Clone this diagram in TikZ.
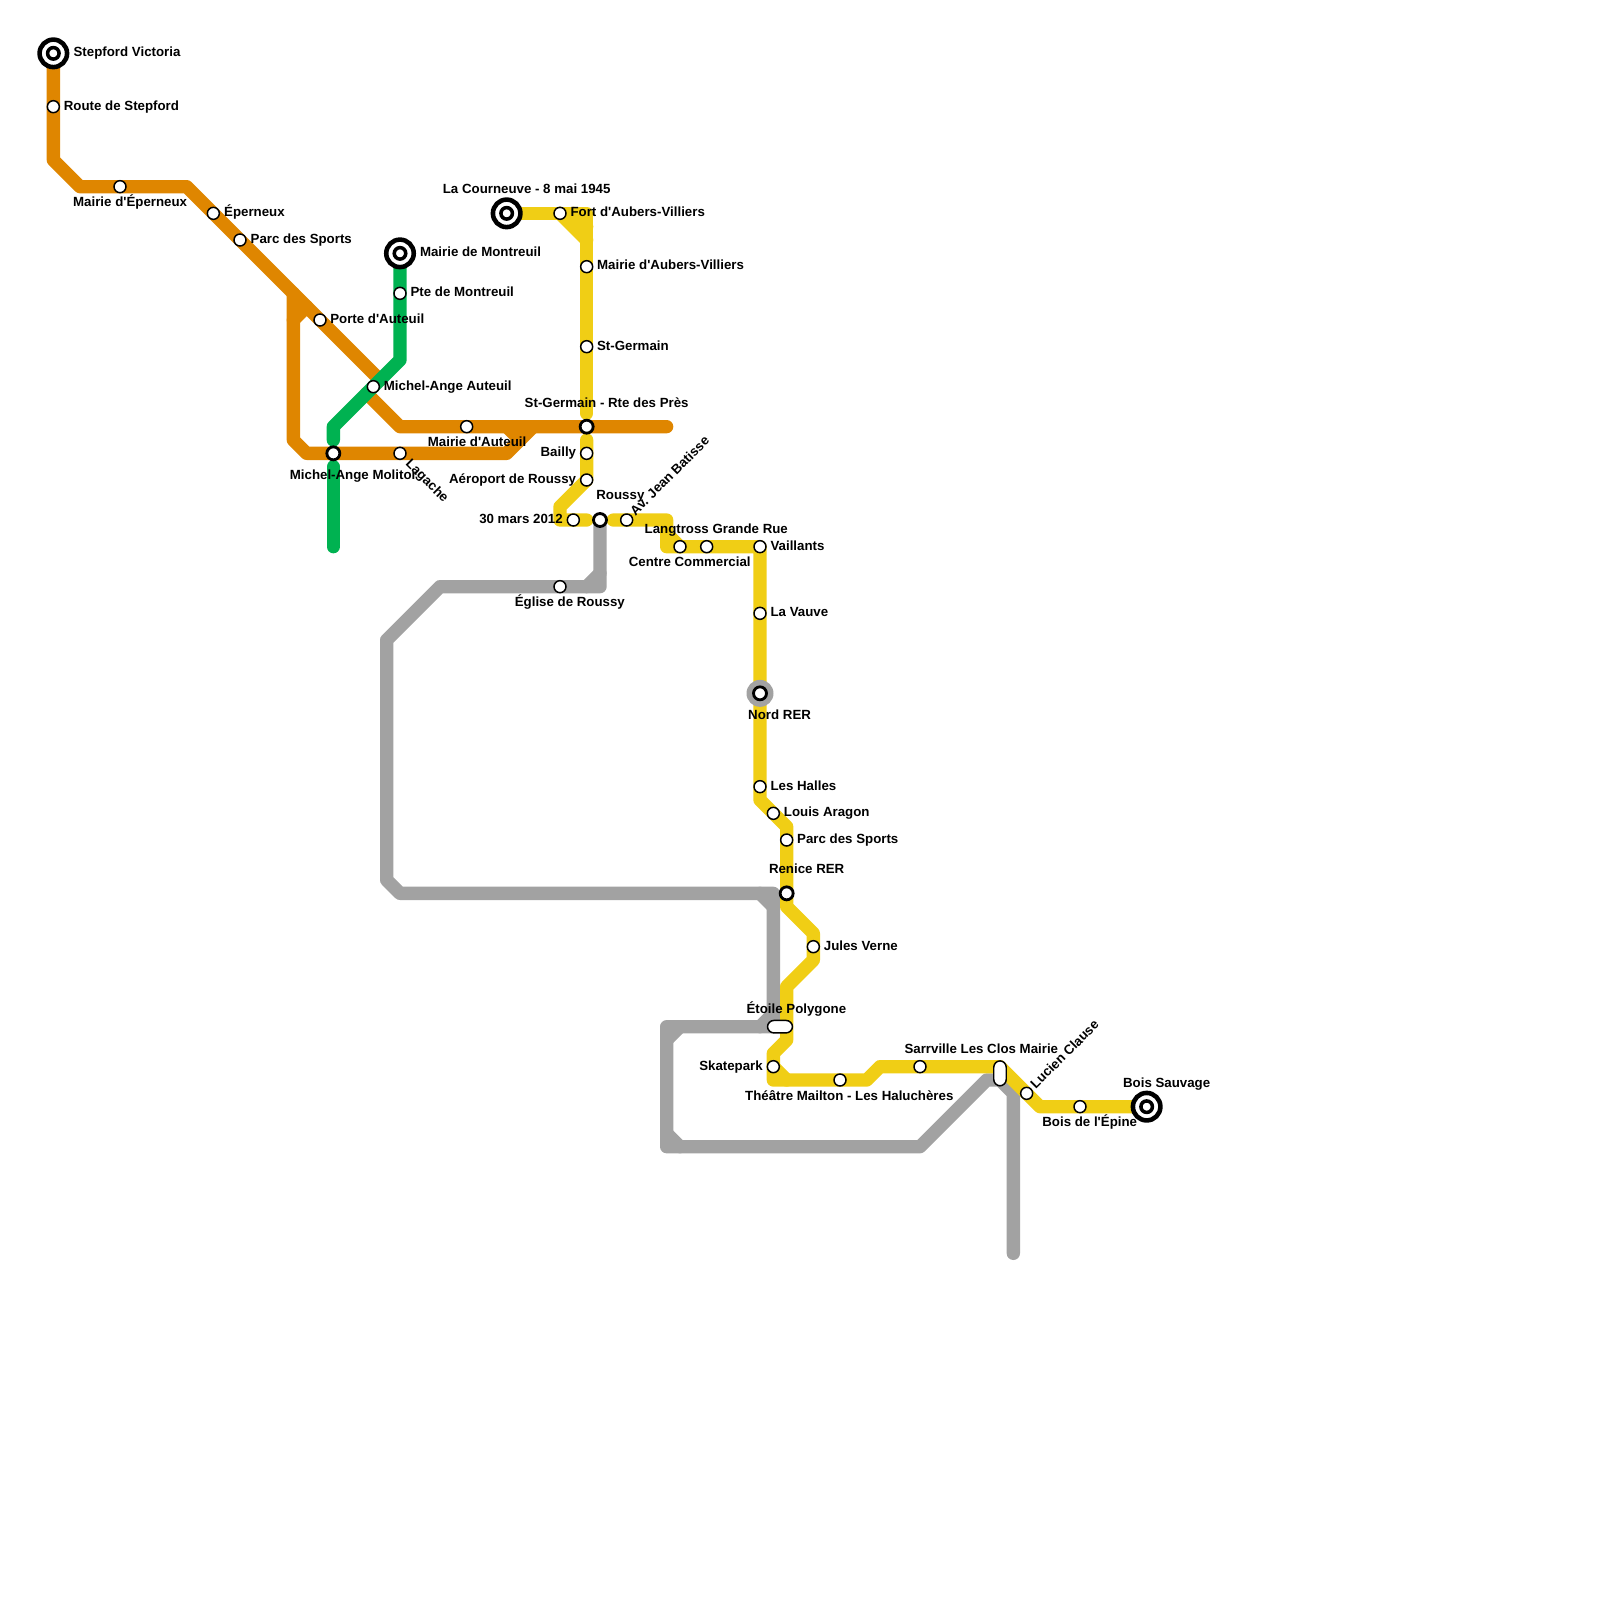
\documentclass[tikz,border=0pt]{standalone}
\usepackage{fontspec}
\setmainfont{Liberation Sans}[Ligatures=TeXOff]
\usetikzlibrary{shapes.misc}
\definecolor{orangeline}{HTML}{DF8600}
\definecolor{greenline}{HTML}{00B251}
\definecolor{yellowline}{HTML}{F0CE15}
\definecolor{grayline}{HTML}{A2A2A2}
\tikzset{
  metro/.style={line width=0.13333cm,line cap=round,line join=round},
  stn/.style={circle,draw=black,fill=white,line width=0.42pt,minimum size=0.12cm,inner sep=0pt},
  hub/.style={circle,draw=black,fill=white,line width=0.8pt,minimum size=0.13cm,inner sep=0pt},
  term/.style={circle,draw=black,fill=white,line width=1.3pt,minimum size=0.275cm,inner sep=0pt},
  termin/.style={circle,draw=black,fill=white,line width=1pt,minimum size=0.115cm,inner sep=0pt},
  lbl/.style={font=\fontsize{3.78}{4.5}\selectfont\bfseries,inner sep=0pt,text height=2.75pt,text depth=0.75pt,yshift=-0.28pt},
}
\begin{document}
\begin{tikzpicture}[x=0.13333cm,y=-0.13333cm]
  \useasboundingbox (0,0) rectangle (120,120);

  % lines
  \draw[metro,grayline] (45,39) -- (45,44) -- (33,44) -- (29,48) -- (29,66) -- (30,67) -- (58,67) -- (58,77)
    -- (50,77) -- (50,86) -- (69,86) -- (74,81) -- (75,81) -- (76,82) -- (76,94);
  \draw[metro,grayline] (44,44) -- (45,43);
  \draw[metro,grayline] (57,67) -- (58,68);
  \draw[metro,grayline] (57,77) -- (58,76);
  \draw[metro,grayline] (50,78) -- (51,77);
  \draw[metro,grayline] (50,85) -- (51,86);

  \draw[metro,orangeline] (4,4) -- (4,12) -- (6,14) -- (14,14) -- (28.5,28.5);
  \draw[metro,orangeline] (27.5,29.5) -- (30,32) -- (50,32);
  \draw[metro,orangeline] (22,22) -- (22,33) -- (23,34) -- (38,34) -- (40,32);
  \draw[metro,orangeline] (22,24) -- (23,23);
  \draw[metro,orangeline] (38,32) -- (39,33);

  \draw[metro,greenline] (30,19) -- (30,27) -- (25,32) -- (25,33);
  \draw[metro,greenline] (25,35) -- (25,41);

  \draw[metro,yellowline] (38,16) -- (44,16) -- (44,31);
  \draw[metro,yellowline] (42,16) -- (44,18);
  \draw[metro,yellowline] (43,16) -- (44,17);
  \draw[metro,yellowline] (44,33) -- (44,36) -- (42,38) -- (42,39) -- (44,39);
  \draw[metro,yellowline] (46,39) -- (50,39) -- (50,41) -- (57,41) -- (57,60) -- (59,62) -- (59,68) -- (61,70)
    -- (61,72) -- (59,74) -- (59,78) -- (58,79) -- (58,81) -- (65,81) -- (66,80) -- (75,80) -- (78,83) -- (86,83);
  \draw[metro,yellowline] (50,40) -- (51,41);
  \draw[metro,yellowline] (58,80) -- (59,81);

  % termini
  \foreach \name/\px/\py in {stepford/4/4,montreuil/30/19,courneuve/38/16,sauvage/86/83}{
    \node[term] (\name) at (\px,\py) {};
    \node[termin] (\name in) at (\px,\py) {};
  }

  % stations
  \foreach \name/\px/\py in {rstep/4/8,meperneux/9/14,eperneux/16/16,sports/18/18,auteuil/24/24,mauteuil/35/32,
    lagache/30/34,ptemont/30/22,angeaut/28/29,fort/42/16,maubers/44/20,germain/44/26,bailly/44/34,aeroport/44/36,
    mars/43/39,batisse/47/39,centre/51/41,langtross/53/41,vaillants/57/41,vauve/57/46,eglise/42/44,halles/57/59,
    aragon/58/61,sportsb/59/63,verne/61/71,skatepark/58/80,theatre/63/81,sarrville/69/80,clause/77/82,epine/81/83}{
    \node[stn] (\name) at (\px,\py) {};
  }

  % interchanges
  \foreach \name/\px/\py in {molitor/25/34,rte/44/32,roussy/45/39,renice/59/67}{
    \node[hub] (\name) at (\px,\py) {};
  }
  \node[circle,fill=grayline,minimum size=0.27cm,inner sep=0pt] (nordring) at (57,52) {};
  \node[hub] (nord) at (57,52) {};
  \node[draw=black,fill=white,rounded corners=0.065cm,line width=0.42pt,minimum width=0.25cm,minimum height=0.125cm,inner sep=0pt] (etoile) at (58.5,77) {};
  \node[draw=black,fill=white,rounded corners=0.065cm,line width=0.42pt,minimum width=0.125cm,minimum height=0.25cm,inner sep=0pt] (clos) at (75,80.5) {};

  % labels, right of the station
  \node[lbl,anchor=west] (stepfordl) at (5.47,3.9) {Stepford Victoria};
  \node[lbl,anchor=west] (rstepl) at (4.74,7.92) {Route de Stepford};
  \node[lbl,anchor=west] (eperneuxl) at (16.76,15.92) {Éperneux};
  \node[lbl,anchor=west] (sportsl) at (18.75,17.91) {Parc des Sports};
  \node[lbl,anchor=west] (montreuill) at (31.45,18.9) {Mairie de Montreuil};
  \node[lbl,anchor=west] (ptemontl) at (30.74,21.89) {Pte de Montreuil};
  \node[lbl,anchor=west] (auteuill) at (24.72,23.95) {Porte d'Auteuil};
  \node[lbl,anchor=west] (angeautl) at (28.74,28.93) {Michel-Ange Auteuil};
  \node[lbl,anchor=west] (fortl) at (42.74,15.92) {Fort d'Aubers-Villiers};
  \node[lbl,anchor=west] (maubersl) at (44.73,19.9) {Mairie d'Aubers-Villiers};
  \node[lbl,anchor=west] (germainl) at (44.73,25.94) {St-Germain};
  \node[lbl,anchor=west] (vaillantsl) at (57.74,40.94) {Vaillants};
  \node[lbl,anchor=west] (vauvel) at (57.74,45.92) {La Vauve};
  \node[lbl,anchor=west] (hallesl) at (57.74,58.93) {Les Halles};
  \node[lbl,anchor=west] (aragonl) at (58.74,60.92) {Louis Aragon};
  \node[lbl,anchor=west] (sportsbl) at (59.74,62.91) {Parc des Sports};
  \node[lbl,anchor=west] (vernel) at (61.74,70.94) {Jules Verne};

  % labels, left of the station
  \node[lbl,anchor=east] (baillyl) at (43.26,33.93) {Bailly};
  \node[lbl,anchor=east] (aeroportl) at (43.26,35.93) {Aéroport de Roussy};
  \node[lbl,anchor=east] (marsl) at (42.26,38.93) {30 mars 2012};
  \node[lbl,anchor=east] (skateparkl) at (57.26,79.93) {Skatepark};

  % labels, above or below
  \node[lbl] (courneuvel) at (39.5,14.15) {La Courneuve - 8 mai 1945};
  \node[lbl] (meperneuxl) at (9.76,15.15) {Mairie d'Éperneux};
  \node[lbl] (mauteuill) at (35.78,33.15) {Mairie d'Auteuil};
  \node[lbl] (molitorl) at (26.5,35.66) {Michel-Ange Molitor};
  \node[lbl] (eglisel) at (42.74,45.15) {Église de Roussy};
  \node[lbl] (centrel) at (51.73,42.17) {Centre Commercial};
  \node[lbl] (langtrossl) at (53.72,39.64) {Langtross Grande Rue};
  \node[lbl] (rtel) at (45.5,30.23) {St-Germain - Rte des Près};
  \node[lbl] (roussyl) at (46.53,37.12) {Roussy};
  \node[lbl] (nordl) at (58.47,53.65) {Nord RER};
  \node[lbl] (renicel) at (60.5,65.2) {Renice RER};
  \node[lbl] (etoilel) at (59.73,75.69) {Étoile Polygone};
  \node[lbl] (theatrel) at (63.7,82.19) {Théâtre Mailton - Les Haluchères};
  \node[lbl] (closl) at (73.6,78.67) {Sarrville Les Clos Mairie};
  \node[lbl] (epinel) at (81.73,84.18) {Bois de l'Épine};
  \node[lbl] (sauvagel) at (87.5,81.2) {Bois Sauvage};

  % rotated labels
  \node[lbl,rotate=-45] (lagachel) at (32,36.04) {Lagache};
  \node[lbl,rotate=45] (batissel) at (50.28,35.66) {Av. Jean Batisse};
  \node[lbl,rotate=45] (clausel) at (79.9,79.05) {Lucien Clause};
\end{tikzpicture}
\end{document}
